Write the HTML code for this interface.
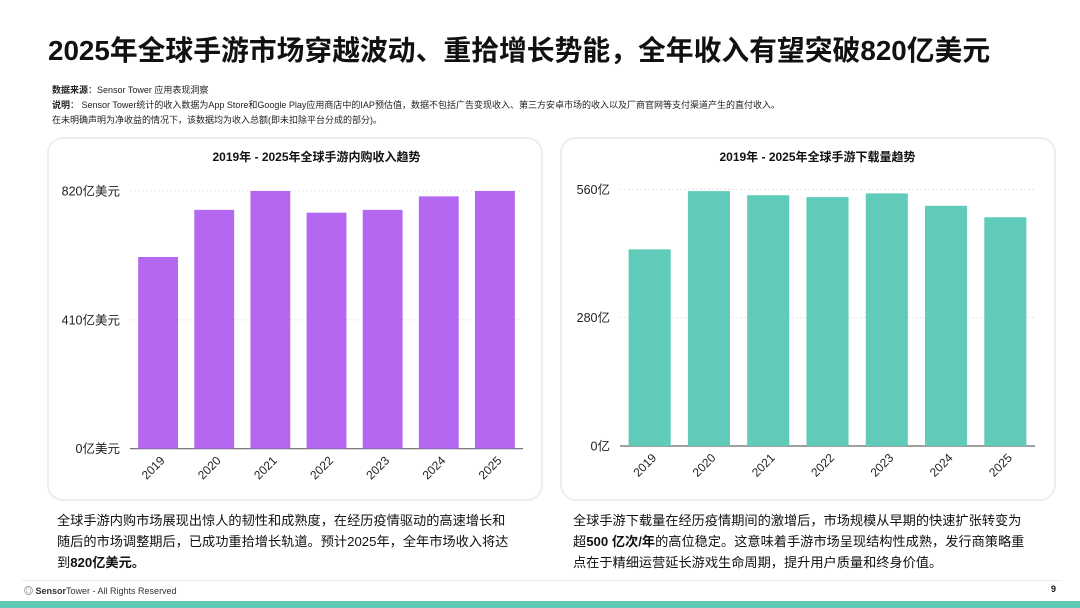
<!DOCTYPE html>
<html><head><meta charset="utf-8">
<style>
body{margin:0;width:1080px;height:608px;background:#fff;position:relative;overflow:hidden;font-family:"Liberation Sans","Noto Sans CJK SC",sans-serif;color:#111}
.abs{position:absolute}
h1{position:absolute;left:48px;top:29px;margin:0;font-size:27.8px;font-weight:bold;letter-spacing:0px;white-space:nowrap}
.note{position:absolute;left:52px;font-size:9px;color:#222;white-space:nowrap}
.card{position:absolute;top:137px;width:492px;height:360px;border:2px solid #eee;border-radius:16px;background:#fff}
.desc{position:absolute;top:510px;font-size:13.2px;line-height:21px;width:464px;color:#111}
</style></head>
<body>
<h1>2025年全球手游市场穿越波动、重拾增长势能，全年收入有望突破820亿美元</h1>
<div class="note" style="top:83px"><b>数据来源</b>：Sensor Tower 应用表现洞察</div>
<div class="note" style="top:98px"><b>说明</b>： Sensor Tower统计的收入数据为App Store和Google Play应用商店中的IAP预估值，数据不包括广告变现收入、第三方安卓市场的收入以及厂商官网等支付渠道产生的直付收入。</div>
<div class="note" style="top:113px">在未明确声明为净收益的情况下，该数据均为收入总额(即未扣除平台分成的部分)。</div>
<div class="card" style="left:47px"></div>
<div class="card" style="left:560px"></div>
<svg class="abs" style="left:0;top:0" width="1080" height="608" id="svg"></svg>
<div class="desc" style="left:57px">全球手游内购市场展现出惊人的韧性和成熟度，在经历疫情驱动的高速增长和<br>随后的市场调整期后，已成功重拾增长轨道。预计2025年，全年市场收入将达<br>到<b>820亿美元。</b></div>
<div class="desc" style="left:573px;width:470px">全球手游下载量在经历疫情期间的激增后，市场规模从早期的快速扩张转变为<br>超<b>500 亿次/年</b>的高位稳定。这意味着手游市场呈现结构性成熟，发行商策略重<br>点在于精细运营延长游戏生命周期，提升用户质量和终身价值。</div>
<div class="abs" style="left:22px;top:580px;width:1040px;border-top:1px solid #eee"></div>
<div class="abs" style="left:24px;top:584px;font-size:9px;color:#333">◎ <b>Sensor</b>Tower - All Rights Reserved</div>
<div class="abs" style="left:1051px;top:584px;font-size:9px;font-weight:bold">9</div>
<div class="abs" style="left:0;top:601px;width:1080px;height:7px;background:#5fcab6"></div>
<script>
const years=["2019","2020","2021","2022","2023","2024","2025"];
const revenue=[610,760,820,751,760,803,820];
const revTicks=[0,410,820];
const revTickLabels=["0亿美元","410亿美元","820亿美元"];
const downloads=[429,556,547,543,551,524,499];
const dlTicks=[0,280,560];
const dlTickLabels=["0亿","280亿","560亿"];
const NS="http://www.w3.org/2000/svg";
const svg=document.getElementById('svg');
function mk(t,a){const e=document.createElementNS(NS,t);for(const k in a)e.setAttribute(k,a[k]);svg.appendChild(e);return e;}
function chart(o){
  const y=v=>o.y0-(v/o.max)*(o.y0-o.y1);
  const band=(o.x1-o.x0)/o.cats.length;
  const x=i=>o.x0+band*i;
  const t=mk('text',{x:(o.x0+o.x1)/2-10,y:161,'text-anchor':'middle','font-size':12,'font-weight':'bold',fill:'#111'});
  t.textContent=o.title;
  
  
  o.ticks.forEach((tv,i)=>{
    const g=mk('line',{x1:o.x0,x2:o.x1,y1:y(tv),y2:y(tv),stroke:i==0?'#666':'#ddd','stroke-width':i==0?1.2:0.8,'stroke-dasharray':i==0?'':'2,2'});
    
    
    const l=mk('text',{x:o.x0-10,y:y(tv)+4.5,'text-anchor':'end','font-size':12.5,fill:'#222'});
    l.textContent=o.tickLabels[i];
    
    
  });
  o.vals.forEach((v,i)=>{
    const bw=band*0.71;
    const r=mk('rect',{x:x(i)+(band-bw)/2,y:y(v),width:bw,height:o.y0-y(v),fill:o.color});
    
    
    const cx=x(i)+band/2-2, cy=o.y0+22;
    const l=mk('text',{x:cx,y:cy,'text-anchor':'middle','font-size':12,fill:'#222',transform:`rotate(-45 ${cx} ${cy})`});
    l.textContent=o.cats[i];
    
    
  });
}
chart({key:'revenue',title:'2019年 - 2025年全球手游内购收入趋势',cats:years,vals:revenue,ticks:revTicks,tickLabels:revTickLabels,max:820,x0:130,x1:523,y0:448.7,y1:191,color:'#b468f1'});
chart({key:'downloads',title:'2019年 - 2025年全球手游下载量趋势',cats:years,vals:downloads,ticks:dlTicks,tickLabels:dlTickLabels,max:560,x0:620,x1:1035,y0:446,y1:189.3,color:'#5fcbb8'});
</script>
</body></html>
